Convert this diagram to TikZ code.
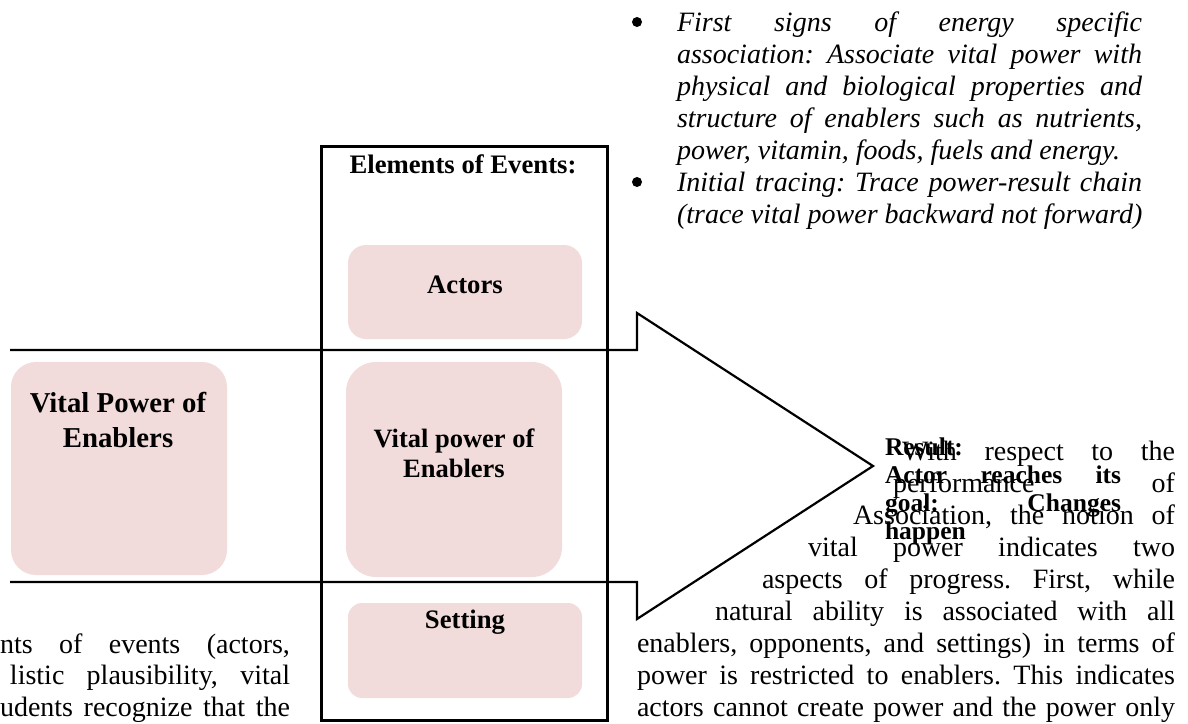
\documentclass[tikz,border=0pt]{standalone}
\usepackage{fontspec}
\setmainfont{Liberation Serif}
\definecolor{pinkfill}{RGB}{242,220,219}
\newlength\upx
\setlength\upx{0.5pt}
\newcommand\jst[2]{\makebox[#1\upx][s]{#2}}
\frenchspacing
\begin{document}
\begin{tikzpicture}[x=0.5pt,y=-0.5pt,
  pinkbox/.style={fill=pinkfill, draw=none, inner sep=0pt, outer sep=0pt},
  body/.style={anchor=base west, inner sep=0pt, outer sep=0pt, font=\fontsize{14}{16}\selectfont\frenchspacing},
  ital/.style={anchor=base west, inner sep=0pt, outer sep=0pt, font=\fontsize{14}{16}\selectfont\itshape\frenchspacing},
  bul/.style={circle, fill=black, draw=none, inner sep=0pt, outer sep=0pt, minimum size=5pt},
  boxlbl/.style={anchor=base, inner sep=0pt, outer sep=0pt, font=\fontsize{13.35}{15}\selectfont\bfseries},
  midlbl/.style={anchor=base, inner sep=0pt, outer sep=0pt, font=\fontsize{13.25}{15}\selectfont\bfseries},
  leftlbl/.style={anchor=base, inner sep=0pt, outer sep=0pt, font=\fontsize{14.4}{17.5}\selectfont\bfseries},
  reslbl/.style={anchor=base west, inner sep=0pt, outer sep=0pt, font=\fontsize{12.75}{14}\selectfont\bfseries},
  frame/.style={draw=black, line width=1.5pt, inner sep=0pt, outer sep=0pt},
  arrowline/.style={draw=black, line width=1.1pt, line join=miter}
]
\useasboundingbox (0,0) rectangle (1188,723);

% pink boxes
\node[pinkbox, rounded corners=12.5pt, minimum width=108pt, minimum height=106.5pt] (lvp) at (119,468.5) {};
\node[pinkbox, rounded corners=15pt, minimum width=108pt, minimum height=107.5pt] (mvp) at (454,469.5) {};
\node[pinkbox, rounded corners=9pt, minimum width=117pt, minimum height=47pt] (actors) at (465,292) {};
\node[pinkbox, rounded corners=7pt, minimum width=117pt, minimum height=47.5pt] (setting) at (465,650.5) {};

% arrow shape
\coordinate (a1) at (10,350);
\coordinate (a2) at (637,350);
\coordinate (a3) at (637,313);
\coordinate (tip) at (873,466);
\coordinate (a5) at (637,619);
\coordinate (a6) at (637,582);
\coordinate (a7) at (10,582);
\draw[arrowline] (a1) -- (a2) -- (a3) -- (tip) -- (a5) -- (a6) -- (a7);

% elements frame
\node[frame, minimum width=143pt, minimum height=287pt] (elems) at (464,433) {};

% box labels
\node[boxlbl] (elemslbl) at (463,173) {Elements of Events:};
\node[boxlbl] (actorslbl) at (465,293) {Actors};
\node[midlbl] (mvp1) at (454,447) {Vital power of};
\node[midlbl] (mvp2) at (454,477) {Enablers};
\node[boxlbl] (settinglbl) at (465,628) {Setting};
\node[leftlbl] (lvp1) at (118,412) {Vital Power of};
\node[leftlbl] (lvp2) at (118,447) {Enablers};

% result text
\node[reslbl] (r1) at (885,455) {Result:};
\node[reslbl] (r2) at (885,483) {\jst{236}{Actor reaches its}};
\node[reslbl] (r3) at (885,511) {\jst{236}{goal: Changes}};
\node[reslbl] (r4) at (885,539) {happen};

% body text on the right
\node[body] (b1) at (902,460) {\jst{273}{With respect to the}};
\node[body] (b2) at (893,492) {\jst{282}{performance of}};
\node[body] (b3) at (853,524) {\jst{322}{Association, the notion of}};
\node[body] (b4) at (808,556) {\jst{367}{vital power indicates two}};
\node[body] (b5) at (762,588) {\jst{413}{aspects of progress. First, while}};
\node[body] (b6) at (715,620) {\jst{460}{natural ability is associated with all}};
\node[body] (b7) at (637,652) {\jst{538}{enablers, opponents, and settings) in terms of}};
\node[body] (b8) at (637,684) {\jst{538}{power is restricted to enablers. This indicates}};
\node[body] (b9) at (637,716) {\jst{538}{actors cannot create power and the power only}};

% body text bottom left
\node[body] (l1) at (0,653) {\jst{290}{nts of events (actors,}};
\node[body] (l2) at (10,684) {\jst{280}{listic plausibility, vital}};
\node[body] (l3) at (0,716) {\jst{290}{udents recognize that the}};

% italic bullets top right
\node[bul] (bu1) at (637,22) {};
\node[ital] (i1) at (677,31) {\jst{465}{First signs of energy specific}};
\node[ital] (i2) at (677,63) {\jst{465}{association: Associate vital power with}};
\node[ital] (i3) at (677,95) {\jst{465}{physical and biological properties and}};
\node[ital] (i4) at (677,127) {\jst{465}{structure of enablers such as nutrients,}};
\node[ital] (i5) at (677,159) {power, vitamin, foods, fuels and energy.};
\node[bul] (bu2) at (637,182) {};
\node[ital] (i6) at (677,191) {\jst{465}{Initial tracing: Trace power-result chain}};
\node[ital] (i7) at (677,223) {(trace vital power backward not forward)};
\end{tikzpicture}
\end{document}
